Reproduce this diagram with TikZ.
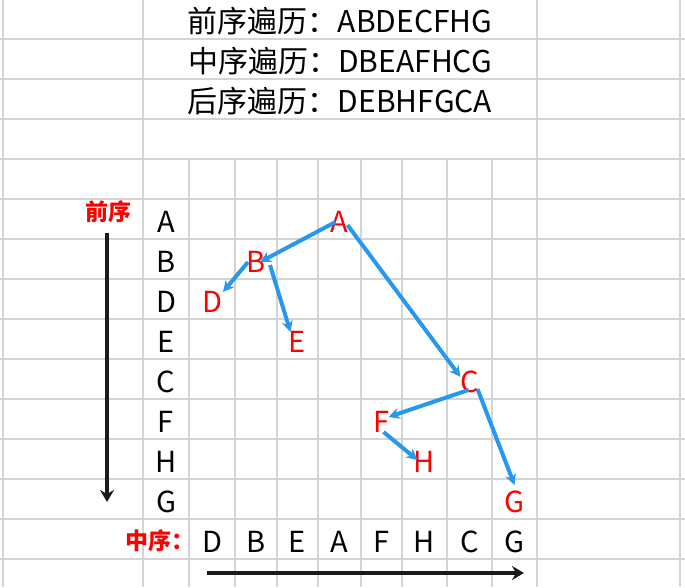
\documentclass[tikz,border=0pt]{standalone}
\usepackage{fontspec}
\setmainfont{Noto Sans CJK SC}
\usetikzlibrary{calc,arrows.meta}
\definecolor{cellgrey}{RGB}{212,212,212}
\definecolor{edgeblue}{RGB}{40,152,238}
\definecolor{ordblack}{RGB}{26,26,26}
\definecolor{nodered}{RGB}{255,0,0}
\tikzset{
  gridline/.style={draw=cellgrey,line width=1.2pt},
  treeedge/.style={draw=edgeblue,line width=4pt,-{Stealth[length=11pt,width=11pt,inset=3.5pt]}},
  orderarrow/.style={draw=ordblack,line width=3.6pt,-{Stealth[length=12pt,width=14pt,inset=4pt]}},
  letterfont/.style={font=\fontsize{29}{29}\selectfont,inner sep=0pt},
  treefont/.style={letterfont,text=nodered},
  headfont/.style={font=\fontsize{30}{30}\selectfont,anchor=base,inner sep=0pt},
  tagfont/.style={font=\fontsize{23}{23}\selectfont\bfseries,text=nodered,inner sep=0pt},
}
\newcommand{\sheetgrid}{%
  \foreach \y in {39,79,...,559}{\draw[gridline] (0,\y) -- (685,\y);}%
  \foreach \x in {3,143,537,680}{\draw[gridline] (\x,0) -- (\x,587);}%
  \foreach \x in {189,235,277,318,361,402,447,492}{\draw[gridline] (\x,159) -- (\x,587);}%
}
\newcommand{\tedge}[4]{\draw[treeedge] ($(#1)+#2$) -- ($(#3)+#4$);}

\begin{document}
\begin{tikzpicture}[x=1pt,y=-1pt]
  \useasboundingbox (0,0) rectangle (685,587);
  \sheetgrid
  \node[headfont] (preline) at (340,32) {前序遍历：ABDECFHG};
  \node[headfont] (inline) at (340,72) {中序遍历：DBEAFHCG};
  \node[headfont] (postline) at (340,112) {后序遍历：DEBHFGCA};
  \foreach \l [count=\i] in {A,B,D,E,C,F,H,G}
    \node[letterfont] (p\i) at (166,{182+40*\i}) {\l};
  \foreach \l/\x [count=\i] in {D/212,B/256,E/297.5,A/339.5,F/381.5,H/424.5,C/469.5,G/514.5}
    \node[letterfont] (m\i) at (\x,541.5) {\l};
  \foreach \l/\x/\y in {A/339.5/222,B/256/262,D/212/302,E/297.5/342,C/469.5/382,F/381.5/422,H/424.5/462,G/514.5/502}
    \node[treefont] (t\l) at (\x,\y) {\l};
  \node[tagfont] (pretag) at (108,212) {前序};
  \node[tagfont] (intag) at (160,541) {中序：};
  \coordinate (vtop) at (107,233);
  \coordinate (vend) at (107,502);
  \coordinate (hbeg) at (207,573);
  \coordinate (hend) at (524,573);
  \draw[orderarrow] (vtop) -- (vend);
  \draw[orderarrow] (hbeg) -- (hend);
  \tedge{tA}{(-4,0)}{tB}{(4,0)}
  \tedge{tA}{(8,3)}{tC}{(-9,-5)}
  \tedge{tB}{(-8,0)}{tD}{(11,-10)}
  \tedge{tB}{(14,3)}{tE}{(-7,-10)}
  \tedge{tC}{(-1,8)}{tF}{(7,-5)}
  \tedge{tC}{(8,7)}{tG}{(0,-17)}
  \tedge{tF}{(2,10)}{tH}{(-7,-2)}
\end{tikzpicture}
\end{document}
